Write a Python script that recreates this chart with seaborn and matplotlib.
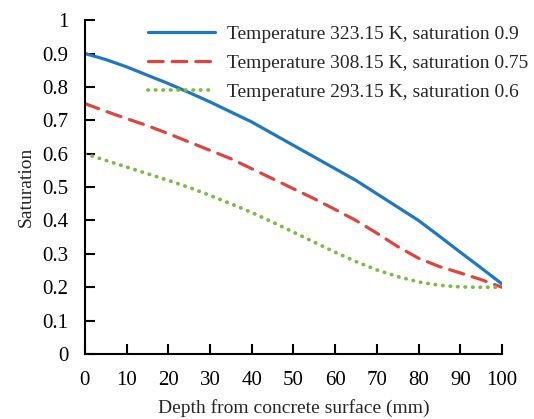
import numpy as np
import pandas as pd
import matplotlib
matplotlib.use("Agg")
import matplotlib.pyplot as plt
import seaborn as sns
from matplotlib.ticker import FuncFormatter, MultipleLocator

depth = [0, 5, 10, 15, 20, 25, 30, 35, 40, 45, 50, 55, 60, 65, 70, 75, 80, 85, 90, 95, 100]
sat_323 = [0.90, 0.882, 0.86, 0.835, 0.81, 0.783, 0.755, 0.725, 0.695, 0.66, 0.625, 0.59, 0.555, 0.52, 0.48, 0.44, 0.40, 0.353, 0.305, 0.258, 0.21]
sat_308 = [0.75, 0.727, 0.705, 0.684, 0.66, 0.635, 0.61, 0.585, 0.555, 0.525, 0.495, 0.465, 0.433, 0.40, 0.362, 0.322, 0.287, 0.262, 0.243, 0.223, 0.20]
sat_293 = [0.60, 0.58, 0.56, 0.54, 0.52, 0.499, 0.475, 0.45, 0.424, 0.395, 0.365, 0.335, 0.305, 0.277, 0.252, 0.232, 0.216, 0.206, 0.201, 0.20, 0.20]
labels = ["Temperature 323.15 K, saturation 0.9",
          "Temperature 308.15 K, saturation 0.75",
          "Temperature 293.15 K, saturation 0.6"]
x_ticks = list(range(0, 101, 10))

sns.set_style("white")
plt.rcParams['font.family'] = ['Liberation Serif', 'DejaVu Serif']

fig = plt.figure(figsize=(5.34, 4.19), dpi=100)
ax = fig.add_axes([0.159, 0.155, 0.781, 0.797])

series = [(sat_323, labels[0], "#1f78c0", "-", 2.3),
          (sat_308, labels[1], "#e0443f", (0, (4.6, 2.8)), 2.3),
          (sat_293, labels[2], "#7cbb45", (0, (0.1, 1.9)), 2.7)]
for vals, lab, col, ls, lw in series:
    sns.lineplot(x=depth, y=vals, ax=ax, color=col, linestyle=ls, linewidth=lw,
                 label=lab, legend=False)
    ln = ax.lines[-1]
    if ls != "-":
        ln.set_dash_capstyle('round')

ax.set_xlim(0, 100)
ax.set_ylim(0, 1)
ax.set_xticks(x_ticks)
ax.yaxis.set_major_locator(MultipleLocator(0.1))
ax.yaxis.set_major_formatter(FuncFormatter(lambda v, p: f"{v:g}" if abs(v) > 1e-9 else "0"))
ax.xaxis.set_major_formatter(FuncFormatter(lambda v, p: f"{int(round(v))}"))
for s in ["top", "right"]:
    ax.spines[s].set_visible(False)
for s in ["left", "bottom"]:
    ax.spines[s].set_color("black")
    ax.spines[s].set_linewidth(1.5)
ax.tick_params(axis="both", which="major", direction="in", length=7, width=1.5,
               labelsize=15, colors="black", bottom=True, left=True, pad=12,
               top=False, right=False)
ax.set_xlabel("Depth from concrete surface (mm)", fontsize=14, labelpad=7)
ax.set_ylabel("Saturation", fontsize=14, labelpad=5)

handles, labs = ax.get_legend_handles_labels()
fig.legend(handles, labs, loc="upper left", bbox_to_anchor=(0.277, 0.94),
           frameon=False, fontsize=14, handlelength=3.45, handletextpad=0.6,
           labelspacing=0.58, borderaxespad=0, borderpad=0)

for t in ax.xaxis.get_major_ticks() + ax.yaxis.get_major_ticks():
    t.tick1line.set_visible(True)
    t.tick1line.set_color("black")
    t.tick1line.set_markeredgewidth(1.5)
    t.tick1line.set_markersize(7)
    t.tick1line.set_zorder(5)

fig.savefig("out.png", dpi=100)
